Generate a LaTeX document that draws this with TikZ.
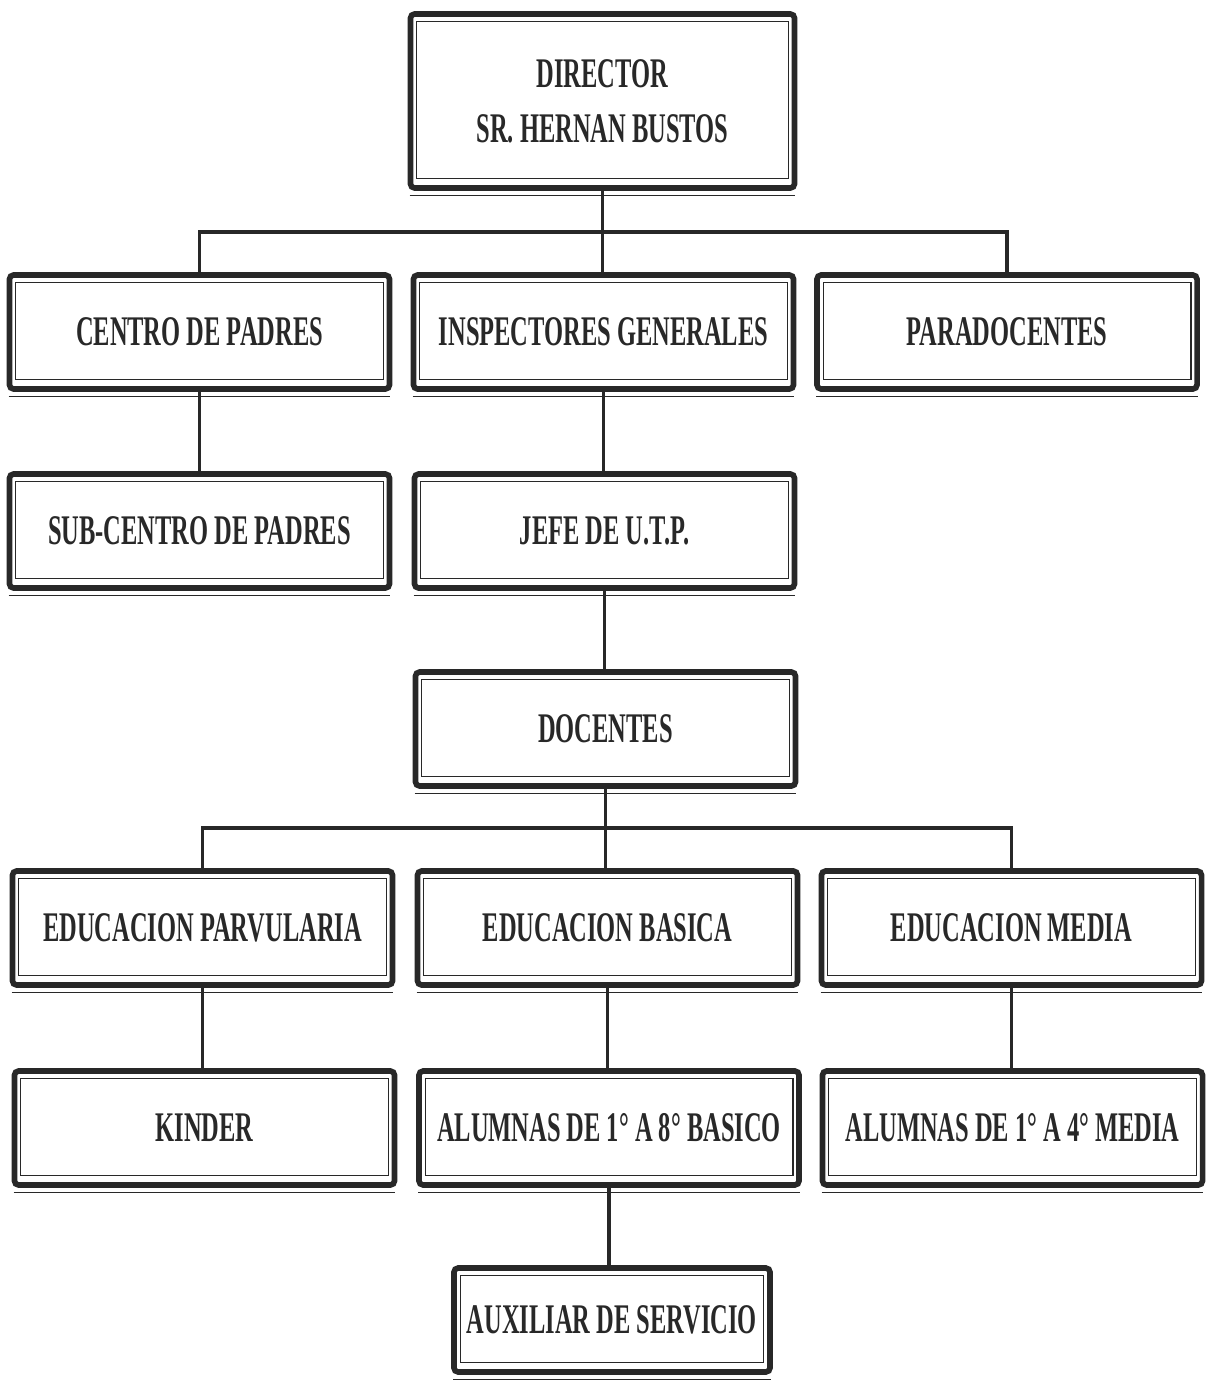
\documentclass[tikz,border=0pt]{standalone}
\usepackage{fontspec}
\setmainfont{Liberation Serif}[FakeStretch=0.58]
\usetikzlibrary{positioning}
\definecolor{ink}{RGB}{40,40,40}
\tikzset{
    unit/.style={rectangle,draw=ink,line width=4pt,rounded corners=3pt,minimum width=9.5cm,minimum height=2.85cm,inner sep=0pt,align=center,text=ink,font=\fontsize{30}{39}\selectfont\bfseries},
    link/.style={draw=ink,line width=2.5pt},
    frame/.style={draw=ink,line width=0.9pt}
}

\begin{document}
\begin{tikzpicture}[x=0.025cm,y=-0.025cm]
                \useasboundingbox (0,0) rectangle (1205,1380);

                \node[unit,minimum width=9.6cm,minimum height=4.35cm] (director) at (602.5,101) {DIRECTOR\\SR. HERNAN BUSTOS};

                \node[unit] (centro padres)     at (199.5,332)  {CENTRO DE PADRES};
                \node[unit] (inspectores)       at (603.5,332)  {INSPECTORES GENERALES};
                \node[unit] (paradocentes)      at (1007,332)   {PARADOCENTES};

                \node[unit] (subcentro padres)  at (199.5,531)  {SUB-CENTRO DE PADRES};
                \node[unit] (jefe utp)          at (604.5,531)  {JEFE DE U.T.P.};

                \node[unit] (docentes)          at (605.5,729)  {DOCENTES};

                \node[unit] (parvularia)        at (202.5,928)  {EDUCACION PARVULARIA};
                \node[unit] (basica)            at (607.5,928)  {EDUCACION BASICA};
                \node[unit] (media)             at (1011.5,928) {EDUCACION MEDIA};

                \node[unit] (kinder)            at (204.5,1128) {KINDER};
                \node[unit] (alumnas basica)    at (609,1128)   {ALUMNAS DE 1° A 8° BASICO};
                \node[unit] (alumnas media)     at (1012.5,1128) {ALUMNAS DE 1° A 4° MEDIA};

                \node[unit,minimum width=7.9cm,minimum height=2.6cm] (auxiliar) at (612,1320) {AUXILIAR DE SERVICIO};

                % inner frame and bottom rule of every box
                \foreach \n in {director,centro padres,inspectores,paradocentes,subcentro padres,jefe utp,docentes,parvularia,basica,media,kinder,alumnas basica,alumnas media,auxiliar}{
                    \draw[frame] ([shift={(9,10)}]\n.north west) rectangle ([shift={(-9,-12)}]\n.south east);
                    \draw[frame] ([shift={(2,5)}]\n.south west) -- ([shift={(-2,5)}]\n.south east);
                }

                \coordinate (top bus) at (602,232);
                \coordinate (low bus) at (606,828);

                \draw[link] (director.south) -- (director.south |- inspectores.north);
                \draw[link] (centro padres.north) |- (top bus) -| (paradocentes.north);

                \draw[link] (centro padres.south) -- (centro padres.south |- subcentro padres.north);
                \draw[link] (inspectores.south) -- (inspectores.south |- jefe utp.north);
                \draw[link] (jefe utp.south) -- (jefe utp.south |- docentes.north);

                \draw[link] (docentes.south) -- (docentes.south |- basica.north);
                \draw[link] (parvularia.north) |- (low bus) -| (media.north);

                \draw[link] (parvularia.south) -- (parvularia.south |- kinder.north);
                \draw[link] (basica.south) -- (basica.south |- alumnas basica.north);
                \draw[link] (media.south) -- (media.south |- alumnas media.north);
                \draw[link] (alumnas basica.south) -- (alumnas basica.south |- auxiliar.north);

            \end{tikzpicture}
\end{document}
